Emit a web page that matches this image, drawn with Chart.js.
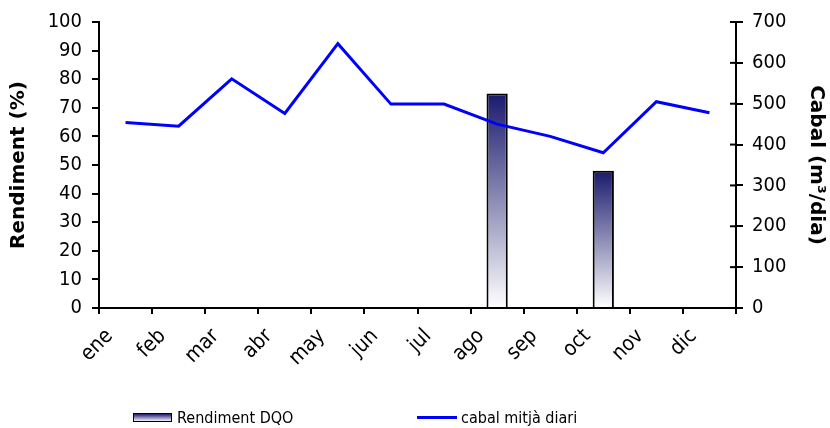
<!DOCTYPE html>
<html>
<head>
<meta charset="utf-8">
<script src="https://cdn.jsdelivr.net/npm/chart.js@4.4.1/dist/chart.umd.min.js"></script>
<style>
  html, body { margin: 0; padding: 0; background: #fff; }
  #wrap { position: relative; width: 830px; height: 428px; }
  #legend { position: absolute; left: 0; top: 406px; width: 830px; height: 22px;
    font: 16px 'DejaVu Sans Condensed', 'DejaVu Sans', sans-serif; color: #000; }
  #legend .item { position: absolute; top: 0; height: 22px; display: flex; align-items: center; white-space: nowrap; }
  #legend .box { width: 37px; height: 7px; border: 1.5px solid #000; margin-right: 5px;
    background: linear-gradient(#1c1c70, #f4f4f8); }
  #legend .ln { width: 40px; height: 3px; background: #0000ff; margin-right: 4px; }
</style>
</head>
<body>
<div id="wrap">
  <canvas id="chart" width="830" height="428"></canvas>
  <div id="legend">
    <div class="item" style="left:133px"><span class="box"></span>Rendiment DQO</div>
    <div class="item" style="left:417px"><span class="ln"></span>cabal mitjà diari</div>
  </div>
</div>
<script>
// dades llegides del gràfic
const mesos = ['ene','feb','mar','abr','may','jun','jul','ago','sep','oct','nov','dic'];
const rendimentDQO = [null, null, null, null, null, null, null, 75, null, 48, null, null];
const cabalMitja = [454, 445, 561, 476, 647, 499, 499, 450, 420, 380, 505, 478];
const rendTicks = { min: 0, max: 100, step: 10 };
const cabalTicks = { min: 0, max: 700, step: 100 };

const FONT = "'DejaVu Sans Condensed', 'DejaVu Sans', sans-serif";
const TITLE_FONT = "'DejaVu Sans', sans-serif";

// degradat blau fosc -> blanc per a cada barra
function barFill(c) {
  const chart = c.chart, v = c.raw, y = chart.scales.y;
  if (v == null || !y) return '#1c1c70';
  const top = y.getPixelForValue(v), base = y.getPixelForValue(0);
  if (!isFinite(top) || !isFinite(base)) return '#1c1c70';
  const g = chart.ctx.createLinearGradient(0, top, 0, base);
  g.addColorStop(0, '#1a1a6e');
  g.addColorStop(1, '#ffffff');
  return g;
}

// marques de l'eix dret que creuen l'eix
const innerTicks = {
  id: 'innerTicks',
  afterDraw(chart) {
    const s = chart.scales.y1, ctx = chart.ctx;
    ctx.save();
    ctx.strokeStyle = '#000'; ctx.lineWidth = 2;
    s.ticks.forEach((t, i) => {
      const py = s.getPixelForTick(i);
      ctx.beginPath(); ctx.moveTo(s.left - 6, py); ctx.lineTo(s.left, py); ctx.stroke();
    });
    ctx.restore();
  }
};

new Chart(document.getElementById('chart'), {
  data: {
    labels: mesos,
    datasets: [
      { type: 'bar', label: 'Rendiment DQO', data: rendimentDQO, yAxisID: 'y', order: 2,
        backgroundColor: barFill, borderColor: '#000', borderWidth: 2,
        categoryPercentage: 1, barPercentage: 0.4 },
      { type: 'line', label: 'cabal mitjà diari', data: cabalMitja, yAxisID: 'y1', order: 1,
        borderColor: '#0000ff', borderWidth: 3, pointRadius: 0, tension: 0, fill: false }
    ]
  },
  options: {
    responsive: false,
    animation: false,
    layout: { padding: { top: 21, bottom: 0, left: 0, right: 0 } },
    plugins: { legend: { display: false }, tooltip: { enabled: false } },
    scales: {
      x: {
        offset: true,
        grid: { offset: true, drawOnChartArea: false, color: '#000', lineWidth: 2, tickLength: 6 },
        border: { color: '#000', width: 2 },
        ticks: { color: '#000', font: { family: FONT, size: 21 }, minRotation: 45, maxRotation: 45,
          autoSkip: false, padding: 10, labelOffset: -16 },
        afterFit(s) { s.height = 120; }
      },
      y: {
        position: 'left', min: rendTicks.min, max: rendTicks.max,
        grid: { drawOnChartArea: false, color: '#000', lineWidth: 2, tickLength: 7 },
        border: { color: '#000', width: 2 },
        ticks: { stepSize: rendTicks.step, color: '#000', padding: 10, font: { family: FONT, size: 20 } },
        title: { display: true, text: 'Rendiment (%)', color: '#000', padding: { top: 7, bottom: 0 },
          font: { family: TITLE_FONT, size: 20, weight: 'bold' } },
        afterFit(s) { s.width = 99; }
      },
      y1: {
        position: 'right', min: cabalTicks.min, max: cabalTicks.max,
        grid: { drawOnChartArea: false, color: '#000', lineWidth: 2, tickLength: 7 },
        border: { color: '#000', width: 2 },
        ticks: { stepSize: cabalTicks.step, color: '#000', padding: 9, font: { family: FONT, size: 20 } },
        title: { display: true, text: 'Cabal (m³/dia)', color: '#000', padding: { top: 2, bottom: 0 },
          font: { family: TITLE_FONT, size: 20, weight: 'bold' } },
        afterFit(s) { s.width = 94; }
      }
    }
  },
  plugins: [innerTicks]
});
</script>
</body>
</html>
